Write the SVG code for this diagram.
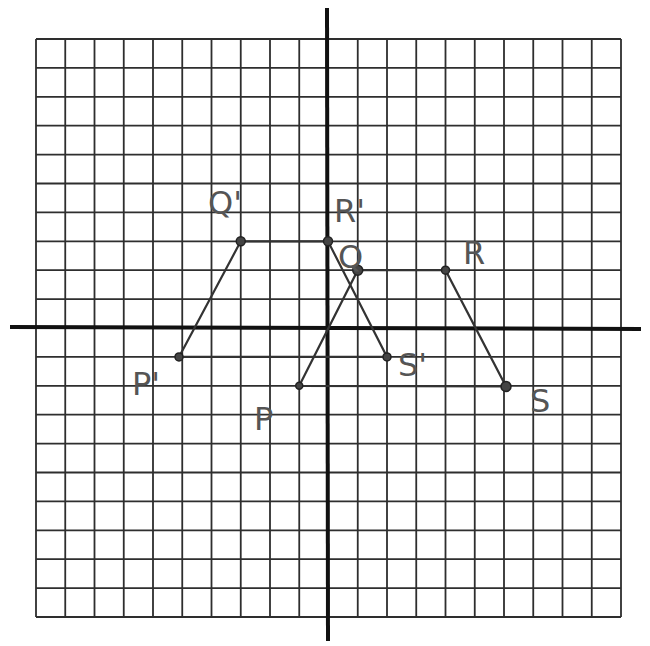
<svg xmlns="http://www.w3.org/2000/svg" width="650" height="646" viewBox="0 0 650 646">
<style>
.grid{stroke:#2e2e2e;stroke-width:1.8;fill:none}
.axis{stroke:#111;stroke-width:4}
.edge{stroke:#333;stroke-width:2.2;fill:none}
.pt{fill:#444;stroke:#222;stroke-width:1.5}
.lbl{font-family:"DejaVu Sans",sans-serif;font-size:32px;fill:#555}
</style>
<rect width="650" height="646" fill="#fff"/>
<g id="grid" class="grid">
<path d="M36 39V617M65.25 39V617M94.5 39V617M123.75 39V617M153 39V617M182.25 39V617M211.5 39V617M240.75 39V617M270 39V617M299.25 39V617M357.75 39V617M387 39V617M416.25 39V617M445.5 39V617M474.75 39V617M504 39V617M533.25 39V617M562.5 39V617M591.75 39V617M621 39V617"/>
<path d="M36 39H621M36 67.9H621M36 96.8H621M36 125.7H621M36 154.6H621M36 183.5H621M36 212.4H621M36 241.3H621M36 270.2H621M36 299.1H621M36 356.9H621M36 385.8H621M36 414.7H621M36 443.6H621M36 472.5H621M36 501.4H621M36 530.3H621M36 559.2H621M36 588.1H621M36 617H621"/>
</g>
<g id="axes">
<line class="axis" x1="327" y1="8" x2="328" y2="641"/>
<line class="axis" x1="10" y1="327" x2="641" y2="329"/>
</g>
<g id="connectors">
<polyline class="edge" points="299.25,385.8 357.75,270.2 445.5,270.2 506,386.5 299.25,385.8"/>
<polyline class="edge" points="179,356.9 240.75,241.3 328,241.3 387,356.9 179,356.9"/>
</g>
<g id="P"><circle class="pt" cx="299.25" cy="385.8" r="3.5"/><text class="lbl" x="254" y="430">P</text></g>
<g id="Q"><circle class="pt" cx="357.75" cy="270.2" r="5"/><text class="lbl" x="338" y="268">Q</text></g>
<g id="R"><circle class="pt" cx="445.5" cy="270.2" r="4"/><text class="lbl" x="463" y="264">R</text></g>
<g id="S"><circle class="pt" cx="506" cy="386.5" r="5"/><text class="lbl" x="530" y="412">S</text></g>
<g id="P1"><circle class="pt" cx="179" cy="356.9" r="4"/><text class="lbl" x="132" y="395">P'</text></g>
<g id="Q1"><circle class="pt" cx="240.75" cy="241.3" r="4.5"/><text class="lbl" x="208" y="214">Q'</text></g>
<g id="R1"><circle class="pt" cx="328" cy="241.3" r="4.5"/><text class="lbl" x="334" y="222">R'</text></g>
<g id="S1"><circle class="pt" cx="387" cy="356.9" r="4"/><text class="lbl" x="398" y="376">S'</text></g>
</svg>
